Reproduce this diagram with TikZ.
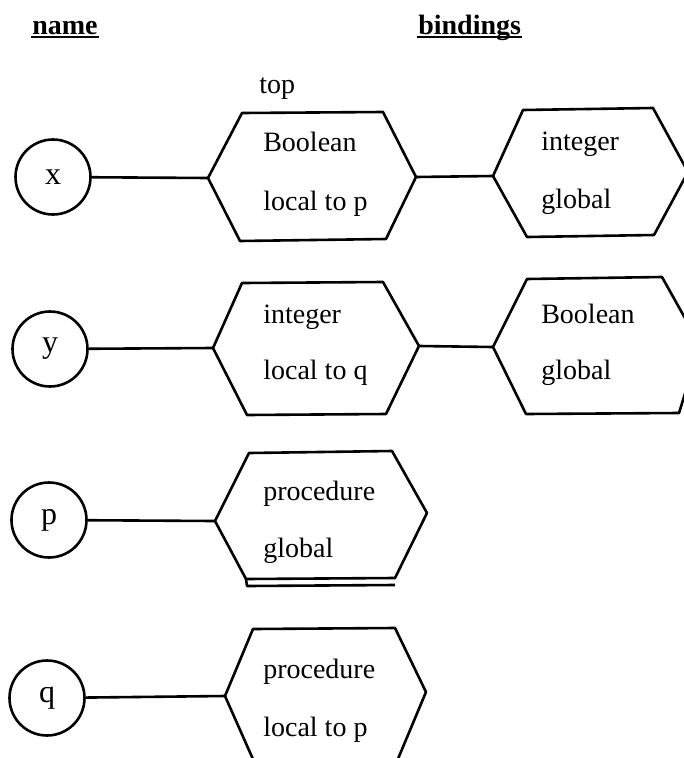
\documentclass[tikz,border=0pt]{standalone}
\usepackage{fontspec}
\setmainfont{Liberation Serif}
\begin{document}
\begin{tikzpicture}[x=1pt,y=-1pt,
  line width=2.6pt, line join=round,
  every node/.style={font=\fontsize{28}{34}\selectfont, inner sep=0pt},
  namecircle/.style={draw, circle, minimum size=75pt, font=\fontsize{32}{38}\selectfont},
  bindtext/.style={anchor=base west},
  heading/.style={anchor=base west, font=\fontsize{28}{34}\selectfont\bfseries},
  underrule/.style={line width=1.8pt}
]
\useasboundingbox (0,0) rectangle (684,758);
\clip (0,0) rectangle (684,758);

% column headings
\node[heading] (hname) at (31,34) {name};
\draw[underrule] ([yshift=-3pt]hname.base west) -- ([yshift=-3pt]hname.base east);
\node[heading] (hbind) at (417,34) {bindings};
\draw[underrule] ([yshift=-3pt]hbind.base west) -- ([yshift=-3pt]hbind.base east);

\node[bindtext] (top) at (258,93) {top};

% ---- x ----
\node[namecircle] (nx) at (53,177) {x};
\coordinate (A-l) at (208,178);
\coordinate (A-r) at (416,177);
\draw (A-l) -- (242,113) -- (383,112) -- (A-r) -- (386,239) -- (240,241) -- cycle;
\node[bindtext] (A-1) at (262,151) {Boolean};
\node[bindtext] (A-2) at (262,210) {local to p};
\coordinate (B-l) at (493,176);
\coordinate (B-r) at (688,172);
\draw (B-l) -- (523,110) -- (653,108) -- (B-r) -- (654,235) -- (527,237) -- cycle;
\node[bindtext] (B-1) at (540,150) {integer};
\node[bindtext] (B-2) at (540,208) {global};
\draw (nx) -- (A-l);
\draw (A-r) -- (B-l);

% ---- y ----
\node[namecircle] (ny) at (50,349) {y};
\coordinate (C-l) at (213,348);
\coordinate (C-r) at (419,346);
\draw (C-l) -- (242,283) -- (383,282) -- (C-r) -- (386,414) -- (247,415) -- cycle;
\node[bindtext] (C-1) at (262,323) {integer};
\node[bindtext] (C-2) at (262,379) {local to q};
\coordinate (D-l) at (493,347);
\coordinate (D-r) at (700,345);
\draw (D-l) -- (527,279) -- (662,277) -- (D-r) -- (679,413) -- (526,414) -- cycle;
\node[bindtext] (D-1) at (540,323) {Boolean};
\node[bindtext] (D-2) at (540,379) {global};
\draw (ny) -- (C-l);
\draw (C-r) -- (D-l);

% ---- p ----
\node[namecircle] (np) at (49,520) {p};
\coordinate (E-l) at (215,521);
\coordinate (E-r) at (427,513);
\draw (E-l) -- (249,453) -- (392,451) -- (E-r) -- (395,578) -- (246,579) -- cycle;
\draw (246,579) -- (247,586) -- (395,585);
\node[bindtext] (E-1) at (262,500) {procedure};
\node[bindtext] (E-2) at (262,557) {global};
\draw (np) -- (E-l);

% ---- q ----
\node[namecircle] (nq) at (47,698) {q};
\coordinate (F-l) at (225,696);
\coordinate (F-r) at (426,692);
\draw (F-l) -- (253,629) -- (395,628) -- (F-r) -- (395,766) -- (256,766) -- cycle;
\node[bindtext] (F-1) at (262,678) {procedure};
\node[bindtext] (F-2) at (262,736) {local to p};
\draw (nq) -- (F-l);
\end{tikzpicture}
\end{document}
